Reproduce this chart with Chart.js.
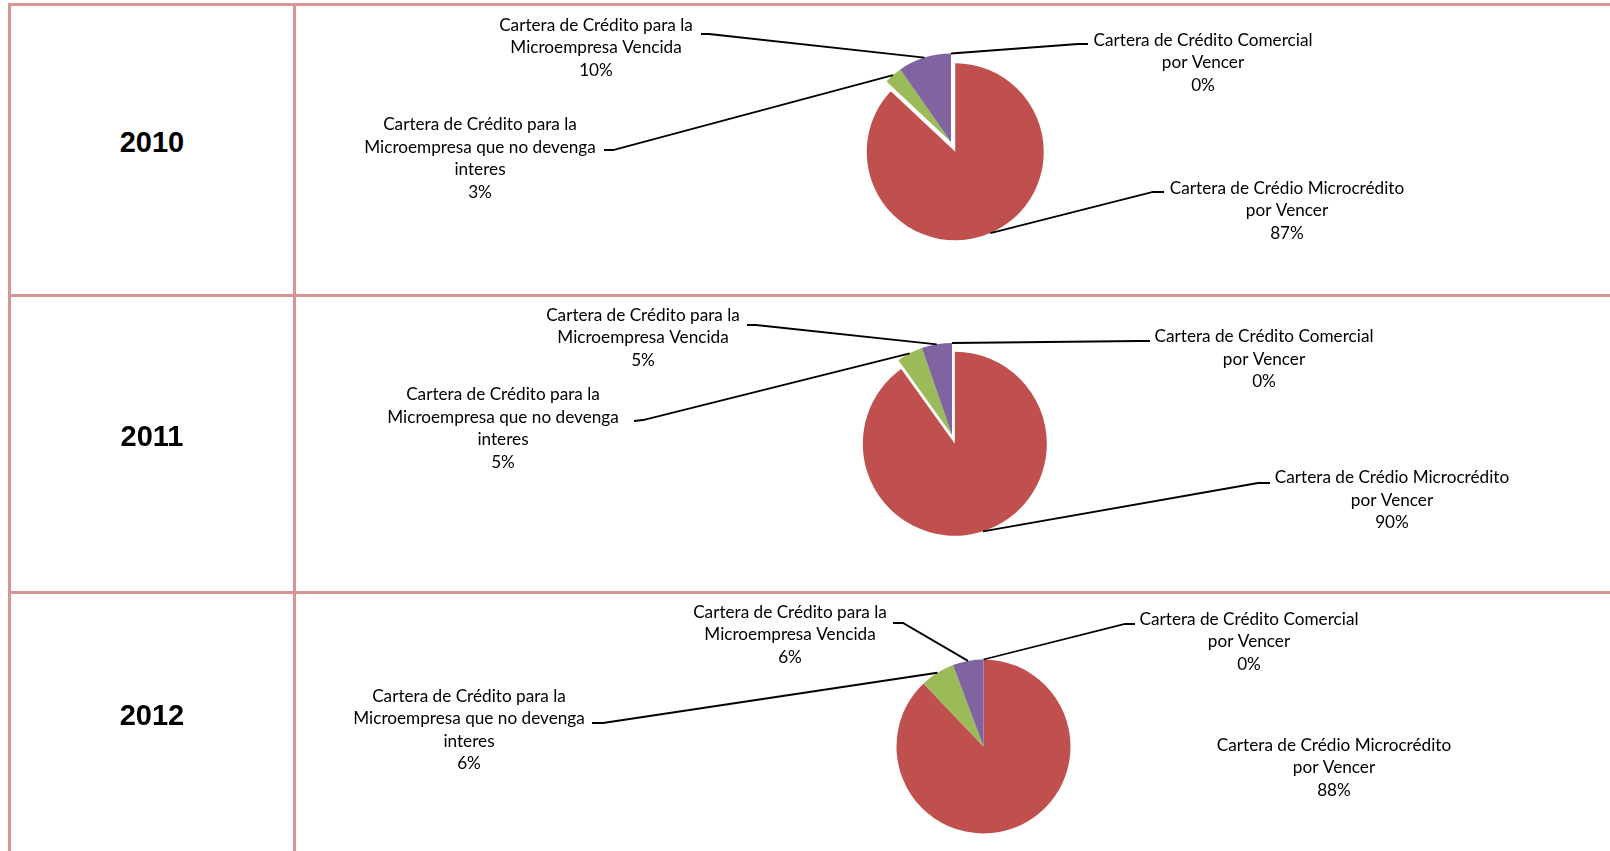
<!DOCTYPE html>
<html>
<head>
<meta charset="utf-8">
<title>Cartera de Crédito 2010 - 2012</title>
<script src="https://cdn.jsdelivr.net/npm/chart.js"></script>
<style>
    html, body { margin: 0; padding: 0; background: #fff; }
    #page { position: relative; width: 1610px; height: 851px; overflow: hidden; }
    .rule { position: absolute; background: #D99594; }
    .year { position: absolute; width: 140px; margin-left: -70px; text-align: center;
            font: bold 29px "Liberation Sans", Arial, sans-serif; line-height: 30px; margin-top: -15px; color: #000; }
    canvas { position: absolute; left: 0; top: 0; }
</style>
</head>
<body>
<div id="page">
    <div class="rule" style="left:8px;top:3px;width:1602px;height:3px"></div>
    <div class="rule" style="left:8px;top:3px;width:3px;height:848px"></div>
    <div class="rule" style="left:293px;top:3px;width:3px;height:848px"></div>
    <div class="rule" style="left:8px;top:294px;width:1602px;height:3px"></div>
    <div class="rule" style="left:8px;top:591px;width:1602px;height:3px"></div>
</div>
<script>
    // data
    const years = ['2010', '2011', '2012'];
    const categories = [
        ['Cartera de Crédito Comercial', 'por Vencer'],
        ['Cartera de Crédio Microcrédito', 'por Vencer'],
        ['Cartera de Crédito para la', 'Microempresa que no devenga', 'interes'],
        ['Cartera de Crédito para la', 'Microempresa Vencida']
    ];
    const values2010 = [0, 87.0, 3.3, 9.7];
    const values2011 = [0, 90.1, 4.6, 5.3];
    const values2012 = [0, 87.9, 6.4, 5.7];
    const sliceColors = ['#4F81BD', '#C0504D', '#9BBB59', '#8064A2'];

    // where each pie and its labels sit on the page
    const layout = {
        '2010': {
            values: values2010, cx: 951, cy: 142, r: 88.5, yearY: 142, explode: [0, 10.7, 0, 0],
            labels: [
                { x: 1203, y: 40, lead: [[1088, 44], [1078, 44]] },
                { x: 1287, y: 188, lead: [[1164, 192], [1153, 192]] },
                { x: 480, y: 124.5, lead: [[604, 150], [613, 150]] },
                { x: 596, y: 25, lead: [[701, 34], [709, 34]] }
            ]
        },
        '2011': {
            values: values2011, cx: 952, cy: 435, r: 92, yearY: 436, explode: [0, 9.2, 0, 0],
            labels: [
                { x: 1264, y: 336.5, lead: [[1150, 341], [1140, 341]] },
                { x: 1392, y: 477.5, lead: [[1270, 483], [1258, 483]] },
                { x: 503, y: 394.5, lead: [[634, 421], [643, 420]] },
                { x: 643, y: 315, lead: [[747, 325], [756, 325]] }
            ]
        },
        '2012': {
            values: values2012, cx: 983.5, cy: 746.5, r: 87, yearY: 715, explode: [0, 0, 0, 0],
            labels: [
                { x: 1249, y: 619, lead: [[1135, 624], [1125, 624]] },
                { x: 1334, y: 745, lead: null },
                { x: 469, y: 696, lead: [[592, 723], [603, 723]] },
                { x: 790, y: 612, lead: [[893, 623], [903, 623]] }
            ]
        }
    };

    function fitFontSize(family, text, width) {
        const c = document.createElement('canvas').getContext('2d');
        c.font = '100px ' + family;
        return 100 * width / c.measureText(text).width;
    }
    const labelFamily = 'Lato, "Open Sans", sans-serif';
    const labelSize = fitFontSize(labelFamily, 'Cartera de Crédito Comercial', 219);
    const lineHeight = 22.5;

    // draws the slices itself so a slice can be pulled out without growing
    const explodePlugin = {
        id: 'explode',
        beforeDatasetsDraw(chart) {
            const ctx = chart.ctx;
            const offsets = chart.options.plugins.explode.offsets;
            chart.getDatasetMeta(0).data.forEach((arc, i) => {
                const d = offsets[i] || 0;
                const mid = (arc.startAngle + arc.endAngle) / 2;
                ctx.save();
                ctx.translate(Math.cos(mid) * d, Math.sin(mid) * d);
                arc.draw(ctx, chart.chartArea);
                ctx.restore();
            });
            return false;
        }
    };

    const labelPlugin = {
        id: 'pieLabels',
        afterDraw(chart) {
            const opts = chart.options.plugins.pieLabels;
            const offsets = chart.options.plugins.explode.offsets;
            const ctx = chart.ctx;
            const meta = chart.getDatasetMeta(0);
            const values = chart.data.datasets[0].data;
            const total = values.reduce((a, b) => a + b, 0);
            ctx.save();
            ctx.font = labelSize.toFixed(2) + 'px ' + labelFamily;
            ctx.fillStyle = '#000';
            ctx.strokeStyle = '#000';
            ctx.lineWidth = 1.8;
            ctx.textAlign = 'center';
            ctx.textBaseline = 'middle';
            opts.items.forEach((item, i) => {
                const lines = chart.data.labels[i].concat([Math.round(values[i] / total * 100) + '%']);
                lines.forEach((t, k) => ctx.fillText(t, item.x, item.y + k * lineHeight));
                if (!item.lead) return;
                const arc = meta.data[i];
                const mid = (arc.startAngle + arc.endAngle) / 2;
                const rr = arc.outerRadius + (offsets[i] || 0);
                ctx.beginPath();
                ctx.moveTo(item.lead[0][0], item.lead[0][1]);
                ctx.lineTo(item.lead[1][0], item.lead[1][1]);
                ctx.lineTo(arc.x + Math.cos(mid) * rr, arc.y + Math.sin(mid) * rr);
                ctx.stroke();
            });
            ctx.restore();
        }
    };

    const page = document.getElementById('page');
    years.forEach(year => {
        const L = layout[year];

        const yl = document.createElement('div');
        yl.className = 'year';
        yl.style.left = '152px';
        yl.style.top = L.yearY + 'px';
        yl.textContent = year;
        page.appendChild(yl);

        const canvas = document.createElement('canvas');
        canvas.width = 1610;
        canvas.height = 851;
        page.appendChild(canvas);

        const half = 100;
        new Chart(canvas, {
            type: 'pie',
            data: {
                labels: categories,
                datasets: [{
                    data: L.values,
                    backgroundColor: sliceColors,
                    borderWidth: 0,
                    radius: L.r
                }]
            },
            options: {
                responsive: false,
                animation: false,
                events: [],
                layout: {
                    padding: {
                        left: L.cx - half,
                        right: 1610 - L.cx - half,
                        top: L.cy - half,
                        bottom: 851 - L.cy - half
                    }
                },
                plugins: {
                    legend: { display: false },
                    tooltip: { enabled: false },
                    explode: { offsets: L.explode },
                    pieLabels: { items: L.labels }
                }
            },
            plugins: [explodePlugin, labelPlugin]
        });
    });
</script>
</body>
</html>
